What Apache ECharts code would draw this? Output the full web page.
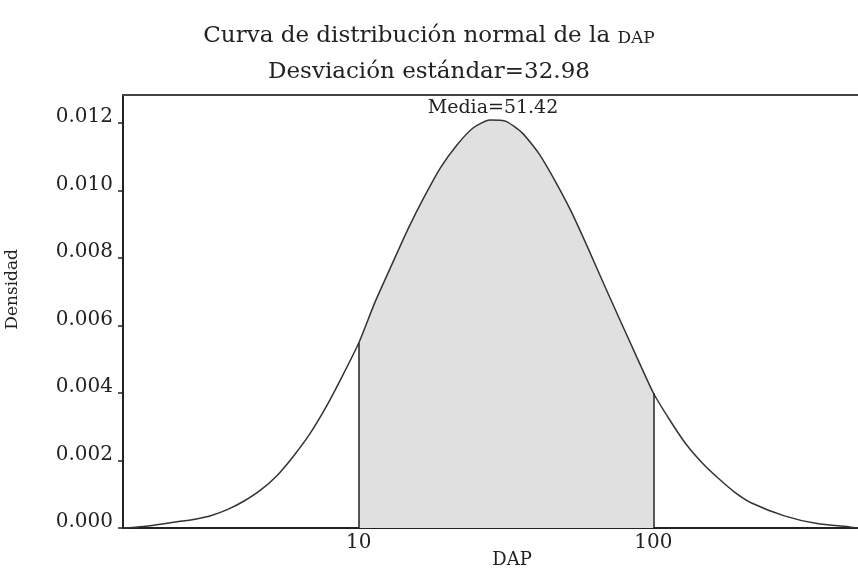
<!DOCTYPE html>
<html>
<head>
<meta charset="utf-8">
<script src="https://cdn.jsdelivr.net/npm/echarts@6/dist/echarts.min.js"></script>
<style>
  html, body { margin: 0; padding: 0; background: #fff; }
  #chart { width: 858px; height: 572px; }
</style>
</head>
<body>
<div id="chart"></div>
<script>
// DAP values (x) and the density (y)
const dap = [-62, -60, -55, -50, -45, -40, -35, -30, -25, -20, -15, -10, -5, 0, 5, 10, 15, 20, 25, 30, 35, 40, 45, 50, 55, 60, 65, 70, 75, 80, 85, 90, 95, 100, 105, 110, 115, 120, 125, 130, 140, 150, 160, 162.5];
const densidad = [0.0, 0.00001, 0.00005, 0.00012, 0.00019, 0.00026, 0.00037, 0.00055, 0.0008, 0.00112, 0.00155, 0.00212, 0.00278, 0.00358, 0.0045, 0.00548, 0.0067, 0.00778, 0.00885, 0.00981, 0.01068, 0.01135, 0.01186, 0.01209, 0.01205, 0.0117, 0.0111, 0.01028, 0.00936, 0.0083, 0.0072, 0.00612, 0.00505, 0.004, 0.0032, 0.00248, 0.00192, 0.00146, 0.00105, 0.00074, 0.00036, 0.00013, 0.00003, 0.0];
const xTicks = [10, 100];
const yTicks = [0, 0.002, 0.004, 0.006, 0.008, 0.010, 0.012];
const limInf = 10, limSup = 100;
const areaTxt = "0.8251";
const mediaTxt = "Media=51.42";

const font = "DejaVu Serif";
const curve = dap.map((x, i) => [x, densidad[i]]);
const shaded = curve.filter(p => p[0] >= limInf && p[0] <= limSup);
const yAt = x => densidad[dap.indexOf(x)];

const chart = echarts.init(document.getElementById("chart"));
chart.setOption({
  animation: false,
  backgroundColor: "#fff",
  textStyle: { fontFamily: font, color: "#222" },
  title: {
    text: "Curva de distribución normal de la {sc|DAP}\nDesviación estándar=32.98",
    left: "center",
    top: 13,
    textStyle: {
      fontFamily: font, fontWeight: "normal", fontSize: 23, color: "#222", lineHeight: 36,
      rich: { sc: { fontFamily: font, fontSize: 17, color: "#222", padding: [5, 0, 0, 0] } }
    }
  },
  grid: { left: 123, right: 0, top: 95, bottom: 44 },
  xAxis: [{
    type: "value",
    min: -62, max: 162.5,
    axisLine: { lineStyle: { color: "#222", width: 2 } },
    axisTick: { show: false },
    splitLine: { show: false },
    axisLabel: { customValues: xTicks, fontSize: 20, color: "#222", margin: 5, fontFamily: font }
  }, {
    type: "value",
    position: "top",
    min: -62, max: 162.5,
    axisLine: { show: true, onZero: false, lineStyle: { color: "#444", width: 2 } },
    axisTick: { show: false },
    axisLabel: { show: false },
    splitLine: { show: false }
  }],
  yAxis: {
    type: "value",
    min: 0, max: 0.01283,
    axisLine: { show: true, onZero: false, lineStyle: { color: "#222", width: 2 } },
    axisTick: { show: true, customValues: yTicks, length: 5, lineStyle: { color: "#222", width: 1.5 } },
    splitLine: { show: false },
    axisLabel: {
      customValues: yTicks, fontSize: 20, color: "#222", margin: 10, fontFamily: font,
      verticalAlign: "bottom", lineHeight: 12,
      formatter: v => v.toFixed(3)
    }
  },
  graphic: [
    { type: "text", left: 4, top: 249, rotation: Math.PI / 2, originX: 0, originY: 0,
      style: { text: "Densidad", font: "17px " + font, fill: "#222", x: 0, y: 0 } },
    { type: "text", x: 512, y: 560, style: { text: "DAP", font: "18px " + font, fill: "#222", align: "center", verticalAlign: "middle" } },
    { type: "text", x: 493, y: 108, style: { text: mediaTxt, font: "19px " + font, fill: "#222", align: "center", verticalAlign: "middle" } },
    { type: "text", x: 490, y: 288, style: { text: areaTxt, font: "19px " + font, fill: "#222", align: "center", verticalAlign: "middle" } }
  ],
  series: [
    {
      type: "line",
      data: shaded,
      smooth: 0.2,
      symbol: "none",
      lineStyle: { width: 0 },
      areaStyle: { color: "#e0e0e0", opacity: 1 },
      z: 1,
      markLine: {
        silent: true,
        symbol: "none",
        label: { show: false },
        lineStyle: { color: "#222", width: 1.5, type: "solid" },
        data: [
          [{ coord: [limInf, 0] }, { coord: [limInf, yAt(limInf)] }],
          [{ coord: [limSup, 0] }, { coord: [limSup, yAt(limSup)] }]
        ]
      }
    },
    {
      type: "line",
      data: curve,
      smooth: 0.2,
      symbol: "none",
      lineStyle: { color: "#333", width: 1.5 },
      z: 3
    }
  ]
});
</script>
</body>
</html>
